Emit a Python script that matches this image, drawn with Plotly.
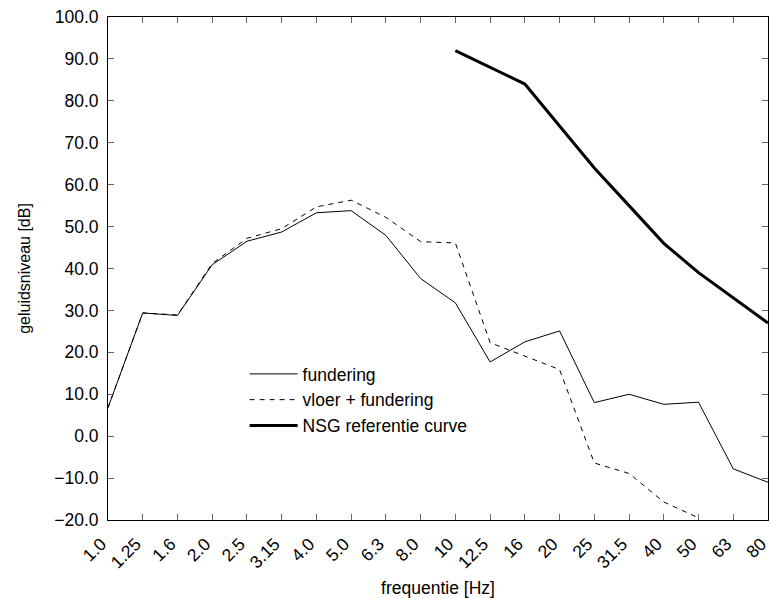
import plotly.graph_objects as go

# Third-octave band centre frequencies (Hz)
frequencies = ["1.0", "1.25", "1.6", "2.0", "2.5", "3.15", "4.0", "5.0", "6.3", "8.0",
               "10", "12.5", "16", "20", "25", "31.5", "40", "50", "63", "80"]

# Sound levels in dB
fundering = [6.8, 29.4, 28.8, 40.9, 46.5, 48.7, 53.3, 53.8, 47.9, 37.6,
             31.8, 17.7, 22.5, 25.1, 8.0, 10.0, 7.6, 8.1, -7.8, -11.0]
vloer_fundering = [6.8, 29.4, 28.9, 41.2, 47.2, 49.5, 54.7, 56.3, 52.2, 46.4,
                   46.1, 22.3, 19.1, 15.9, -6.4, -8.9, -15.7, -19.5, None, None]
nsg_referentie = [None, None, None, None, None, None, None, None, None, None,
                  92.0, 88.0, 84.0, 74.0, 64.0, 55.0, 46.0, 39.0, 33.0, 27.0]

y_ticks = [-20, -10, 0, 10, 20, 30, 40, 50, 60, 70, 80, 90, 100]

x_pos = list(range(len(frequencies)))
FONT = "Liberation Sans, Arial, Helvetica, sans-serif"

# trailing no-break spaces keep the slanted labels tucked under their ticks
x_labels = [f + "\u00a0\u00a0" for f in frequencies]

fig = go.Figure()
fig.add_trace(go.Scatter(x=x_pos, y=fundering, mode="lines", name="fundering",
                         line=dict(color="black", width=1)))
fig.add_trace(go.Scatter(x=x_pos, y=vloer_fundering, mode="lines", name="vloer + fundering",
                         line=dict(color="black", width=1, dash="5px,5px")))
fig.add_trace(go.Scatter(x=x_pos, y=nsg_referentie, mode="lines", name="NSG referentie curve",
                         line=dict(color="black", width=3)))

fig.update_layout(
    width=772, height=598,
    margin=dict(l=108, r=4, t=17, b=78),
    paper_bgcolor="white", plot_bgcolor="white",
    font=dict(family=FONT, size=17.5, color="black"),
    showlegend=True,
    legend=dict(x=0.207, y=0.326, xanchor="left", yanchor="top",
                bgcolor="rgba(0,0,0,0)", font=dict(size=17.5),
                tracegroupgap=0, itemwidth=48),
)

fig.update_xaxes(
    range=[0, len(frequencies) - 1], automargin=False,
    tickmode="array", tickvals=x_pos, ticktext=x_labels, tickangle=-45,
    ticks="inside", ticklen=6, tickcolor="#666", mirror="ticks",
    ticklabeloverflow="allow", ticklabelstandoff=-1,
    showline=True, linecolor="black", linewidth=1, showgrid=False, zeroline=False,
    title=dict(text="frequentie [Hz]", font=dict(size=17.5), standoff=14),
)
fig.update_yaxes(
    range=[-20, 100], automargin=False,
    tickmode="array", tickvals=y_ticks, ticktext=[f"{v:.1f}".replace("-", "\u2212") for v in y_ticks],
    ticks="inside", ticklen=6, tickcolor="#666", mirror="ticks",
    ticklabeloverflow="allow", ticklabelstandoff=5,
    showline=True, linecolor="black", linewidth=1, showgrid=False, zeroline=False,
    title=dict(text="geluidsniveau [dB]", font=dict(size=16), standoff=19),
)

fig.write_html("out.html")
